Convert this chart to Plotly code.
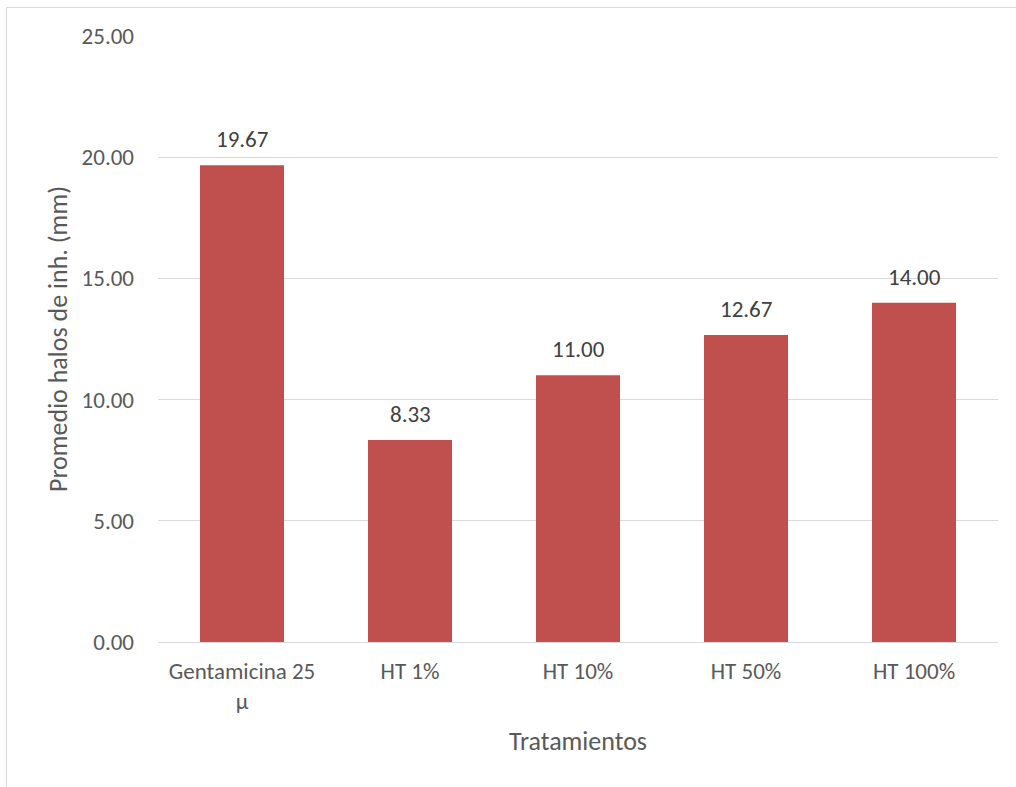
import plotly.graph_objects as go

categories = ["Gentamicina 25<br>µ", "HT 1%", "HT 10%", "HT 50%", "HT 100%"]
values = [19.67, 8.33, 11.00, 12.67, 14.00]
labels = ["19.67", "8.33", "11.00", "12.67", "14.00"]
y_ticks = [0, 5, 10, 15, 20, 25]
y_tick_text = ["0.00", "5.00", "10.00", "15.00", "20.00", "25.00"]

font_family = "Carlito, Calibri, 'Open Sans', 'Liberation Sans', sans-serif"
text_color = "#595959"

fig = go.Figure(
    go.Bar(
        x=categories,
        y=values,
        marker=dict(color="#C0504D", line=dict(width=0)),
    )
)

annotations = [
    dict(
        x=c, y=v, xref="x", yref="y", text=t, showarrow=False,
        yanchor="bottom", yshift=10,
        font=dict(size=23, color="#404040", family=font_family),
    )
    for c, v, t in zip(categories, values, labels)
]

fig.update_layout(
    width=1016,
    height=787,
    margin=dict(l=158, r=18, t=36, b=145),
    paper_bgcolor="white",
    plot_bgcolor="white",
    bargap=0.5,
    showlegend=False,
    font=dict(family=font_family, color=text_color, size=23),
    annotations=annotations,
    shapes=[
        dict(
            type="rect", xref="paper", yref="paper",
            x0=(6.5 - 158) / 840, x1=1.2,
            y0=-0.4, y1=(642 - 7.5) / 606,
            line=dict(color="#D9D9D9", width=1), fillcolor="rgba(0,0,0,0)",
            layer="below",
        )
    ],
)

fig.update_xaxes(
    showgrid=False,
    showline=True,
    linecolor="#D9D9D9",
    linewidth=1,
    ticks="",
    ticklabelstandoff=8,
    tickfont=dict(size=23, color=text_color),
    title=dict(text="Tratamientos", font=dict(size=26, color=text_color), standoff=18),
)

fig.update_yaxes(
    range=[0, 25],
    tickvals=y_ticks,
    ticktext=y_tick_text,
    showgrid=True,
    gridcolor="#D9D9D9",
    gridwidth=1,
    zeroline=False,
    showline=False,
    ticks="",
    ticklabelstandoff=23,
    tickfont=dict(size=23, color=text_color),
    title=dict(text="Promedio halos de inh. (mm)", font=dict(size=26, color=text_color), standoff=6),
)

fig.write_html("out.html")
